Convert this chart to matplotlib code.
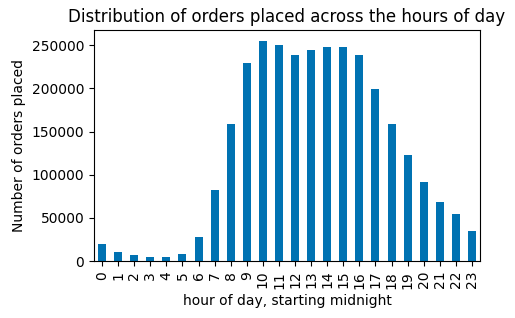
import pandas as pd
import matplotlib
matplotlib.use('Agg')
import matplotlib.pyplot as plt

# orders per hour of day
hours = list(range(24))
orders = [19700, 10800, 6900, 4600, 4600, 8100, 27800, 82200, 158600, 229200,
          254600, 250000, 238400, 244200, 247700, 247700, 238400, 199000,
          158600, 122700, 91400, 68300, 54400, 34700]

s = pd.Series(orders, index=hours)

fig, ax = plt.subplots(figsize=(5.15, 3.18), dpi=100)
fig.subplots_adjust(left=0.1825, right=0.932, top=0.905, bottom=0.179)
s.plot(kind='bar', ax=ax, color='#0072B2')
ax.set_title('Distribution of orders placed across the hours of day')
ax.set_xlabel('hour of day, starting midnight')
ax.set_ylabel('Number of orders placed')
fig.savefig('out.png')
